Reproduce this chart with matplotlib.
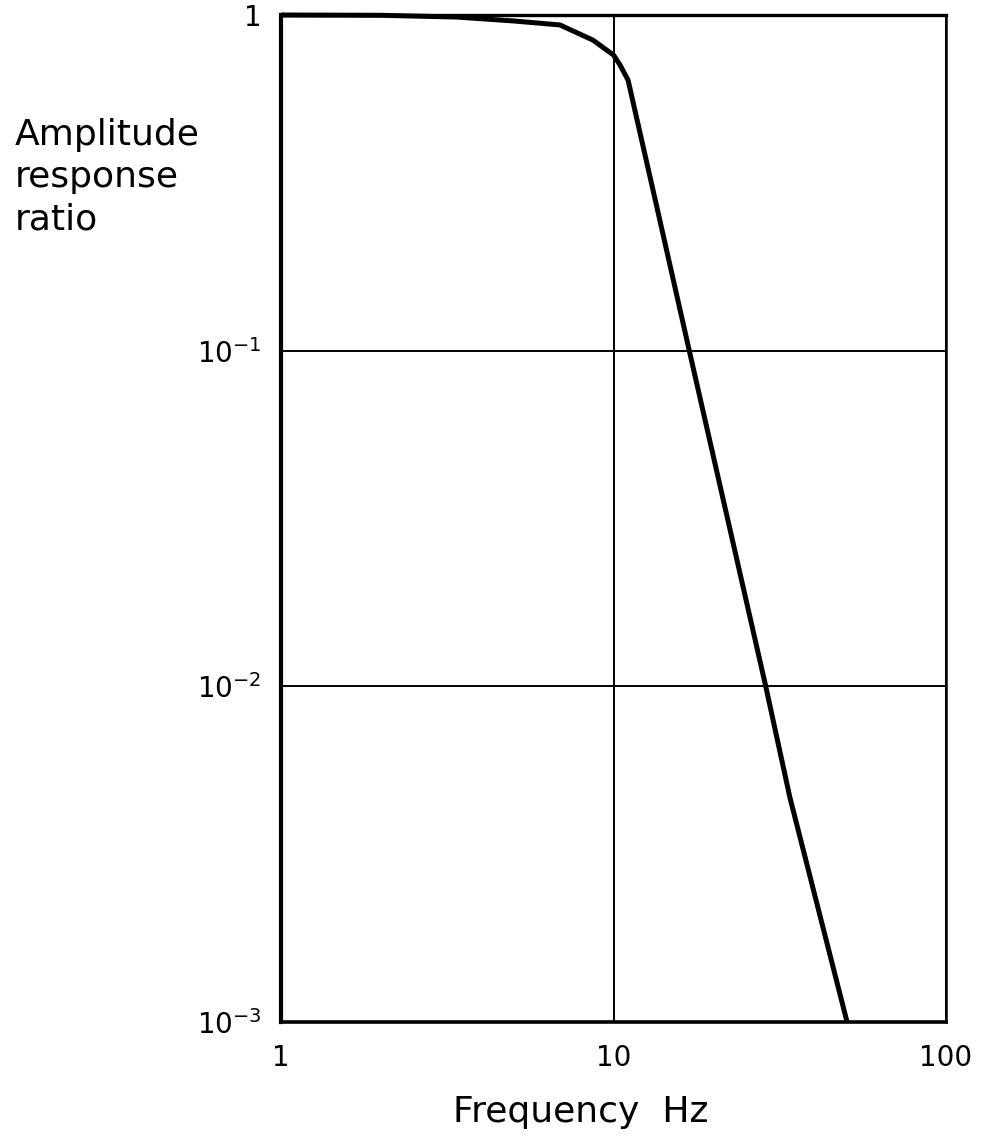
import matplotlib
matplotlib.use("Agg")
import matplotlib.pyplot as plt

# Data
freq_hz = [1, 2, 3.38, 5, 6.9, 8.67, 10, 10.46, 11.06, 13.5, 16.9, 28.7, 33.9, 50.4]
amplitude_ratio = [1.0, 0.998, 0.986, 0.96, 0.934, 0.842, 0.76, 0.71, 0.64, 0.268, 0.1, 0.01, 0.00468, 0.001]

x_ticks = [1, 10, 100]
x_tick_labels = ["1", "10", "100"]
y_ticks = [1e-3, 1e-2, 1e-1, 1]
y_tick_labels = [r"$10^{-3}$", r"$10^{-2}$", r"$10^{-1}$", "1"]

plt.rcParams["font.family"] = ["DejaVu Sans"]
plt.rcParams["mathtext.fontset"] = "dejavusans"

fig = plt.figure(figsize=(9.94, 11.4), dpi=100)
ax = fig.add_axes([281 / 994, 1 - 1022 / 1140, 665 / 994, 1007 / 1140])

ax.set_xscale("log")
ax.set_yscale("log")
ax.set_xlim(1, 100)
ax.set_ylim(1e-3, 1)

ax.plot(freq_hz, amplitude_ratio, color="black", lw=3.6, solid_capstyle="butt",
        solid_joinstyle="round", clip_on=False, zorder=3)

ax.set_xticks(x_ticks)
ax.set_xticklabels(x_tick_labels)
ax.set_yticks(y_ticks)
ax.set_yticklabels(y_tick_labels)
ax.minorticks_off()
ax.tick_params(axis="both", length=0, labelsize=20)
ax.tick_params(axis="x", pad=16)
ax.tick_params(axis="y", pad=14)

ax.grid(True, which="major", color="black", lw=1.4)
ax.set_axisbelow(True)

for side, w in {"left": 3.0, "bottom": 2.6, "top": 2.4, "right": 1.8}.items():
    ax.spines[side].set_linewidth(w)
    ax.spines[side].set_color("black")

fig.text(581 / 994, 1 - 1122 / 1140, "Frequency  Hz", ha="center", va="baseline", fontsize=26)
fig.text(15 / 994, 1 - 118 / 1140, "Amplitude\nresponse\nratio", ha="left", va="top",
         fontsize=26, linespacing=1.3)

fig.savefig("out.png", dpi=100, facecolor="white")
